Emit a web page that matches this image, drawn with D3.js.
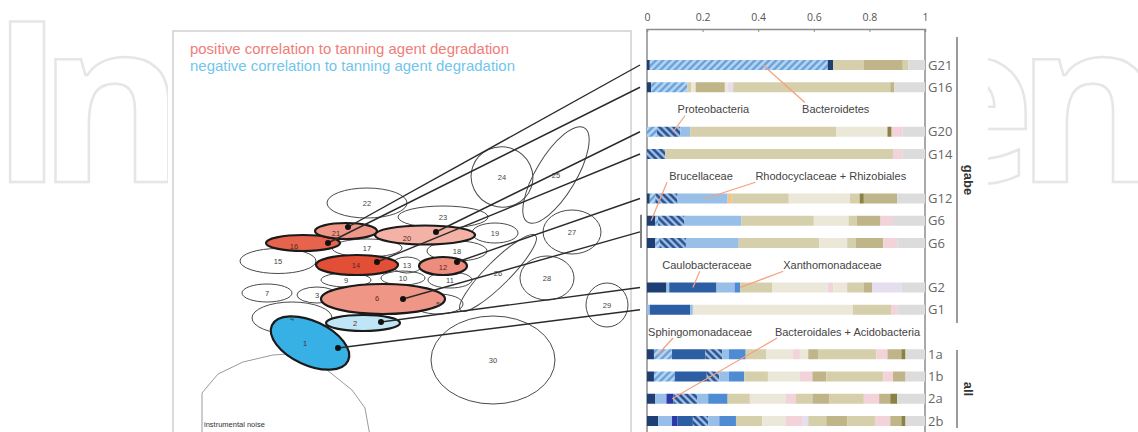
<!DOCTYPE html>
<html>
<head>
<meta charset="utf-8">
<script src="https://cdn.jsdelivr.net/npm/d3@7"></script>
<style>
  body { margin: 0; background: #fff; }
  svg { display: block; }
</style>
</head>
<body>
<svg id="chart" width="1138" height="432"></svg>
<script>
// ---------------- data ----------------
// bar rows (blank ids hold the callout label rows)
const rowIds    = ["G21","G16","gapA","G20","G14","gapB","G12","G6a","G6b","gapC","G2","G1","gapD","1a","1b","2a","2b"];
const rowLabels = ["G21","G16","",    "G20","G14","",    "G12","G6", "G6", "",    "G2","G1","",    "1a","1b","2a","2b"];

// relative abundance of each taxon group along a bar, in order
const compG21 = [["navy",.01],["hatchL",.64],["navy",.02],["tan",.11],["khaki",.14],["tan",.02],["grey",.06]];
const compG16 = [["navy",.015],["hatchL",.13],["tan",.015],["pale",.015],["khaki",.105],["pale",.01],["lav",.02],["tan",.565],["khaki",.015],["grey",.11]];
const compG20 = [["hatchL",.035],["hatchD",.085],["light",.035],["tan",.525],["pale",.185],["olive",.015],["pink",.04],["grey",.08]];
const compG14 = [["hatchD",.065],["tan",.82],["pink",.035],["grey",.08]];
const compG12 = [["navy",.01],["hatchL",.02],["hatchD",.08],["light",.18],["orange",.015],["tan",.205],["pale",.22],["tan",.035],["olive",.015],["khaki",.12],["grey",.10]];
const compG6a = [["navy",.03],["hatchL",.01],["hatchD",.095],["light",.205],["tan",.26],["pale",.125],["tan",.03],["khaki",.085],["pink",.045],["grey",.115]];
const compG6b = [["navy",.03],["hatchL",.015],["hatchD",.095],["light",.19],["tan",.29],["pale",.10],["tan",.03],["khaki",.10],["pink",.05],["grey",.10]];
const compG2  = [["navy",.07],["light",.01],["blue",.17],["light",.065],["mid",.02],["tan",.115],["pale",.20],["pink",.02],["pale",.05],["tan",.06],["khaki",.03],["lav",.105],["grey",.085]];
const compG1  = [["light",.01],["blue",.145],["light",.01],["pale",.575],["tan",.14],["pink",.02],["grey",.10]];
const comp1a  = [["navy",.025],["hatchL",.065],["blue",.12],["hatchD",.06],["light",.025],["mid",.06],["tan",.075],["pale",.095],["pink",.025],["pale",.03],["khaki",.035],["tan",.21],["pink",.04],["khaki",.05],["olive",.015],["grey",.07]];
const comp1b  = [["navy",.025],["hatchL",.075],["blue",.115],["hatchD",.045],["light",.035],["mid",.055],["tan",.085],["pale",.115],["pink",.045],["khaki",.05],["tan",.205],["pink",.035],["khaki",.045],["grey",.07]];
const comp2a  = [["navy",.03],["light",.04],["indigo",.025],["hatchD",.085],["light",.04],["mid",.07],["tan",.08],["pale",.13],["pink",.035],["tan",.06],["khaki",.06],["tan",.125],["pink",.055],["khaki",.04],["olive",.025],["grey",.10]];
const comp2b  = [["navy",.04],["light",.05],["indigo",.02],["blue",.055],["hatchD",.055],["light",.04],["mid",.06],["tan",.095],["pale",.085],["pink",.06],["lav",.02],["tan",.065],["khaki",.075],["tan",.10],["pink",.055],["khaki",.04],["olive",.015],["grey",.07]];

const compositions = {G21: compG21, G16: compG16, G20: compG20, G14: compG14, G12: compG12,
  G6a: compG6a, G6b: compG6b, G2: compG2, G1: compG1, "1a": comp1a, "1b": comp1b, "2a": comp2a, "2b": comp2b};

const tickValues = [0, 0.2, 0.4, 0.6, 0.8, 1];

// clusters of the map: id, centre, radii, tilt, correlation to tanning agent degradation
const clusterIds  = ["1","2","3","4","5","6","7","9","10","11","12","13","14","15","16","17","18","19","20","21","22","23","24","25","26","27","28","29","30"];
const clusterCx   = [137,190,144,119,265,210, 94,173,230,277,270,234,184,105,130,194,284,322,252,173,194,270,329,383,325,399,374,434,320];
const clusterCy   = [312,292,264,287,273,268,262,249,247,249,235,234,234,230,212,217,220,202,204,200,172,186,146,144,242,201,247,274,329];
const clusterRx   = [ 42, 37, 20, 40, 25, 62, 25, 25, 22, 22, 24, 15, 41, 38, 37, 35, 30, 23, 50, 31, 40, 45, 31, 55, 53, 29, 27, 21, 62];
const clusterRy   = [ 22,  8,  8, 16, 10, 15,  9,  7,  7,  8,  9,  8, 10, 12.5, 8,  9, 10, 10, 9.5, 8, 15, 11, 30, 20, 12, 22, 22, 22, 44];
const clusterTilt = [ 25,  0,  0,  0,  0,  0,  0,  0,  0,  0,  0,  0,  0,  0,  0,  0,  0,  0,  0,  0,  0,  0, 20,-59,-45,  0,  0,  0,  0];
const clusterCorr = [-0.9,-0.2,0, 0,  0, 0.5, 0,  0,  0,  0, 0.55, 0, 0.9, 0, 0.78, 0,  0,  0, 0.35, 0.5, 0, 0,  0,  0,  0,  0,  0,  0,  0];

// which cluster feeds which bar
const linkFrom = ["21","16","20","14","12","6","2","1"];
const linkTo   = ["G21","G16","G20","G14","G12","G6","G2","G1"];

// ---------------- styles & layout ----------------
const fills = {
  navy: "#1d3f73", blue: "#2c5ea3", mid: "#4f8bd3", light: "#98bfe7", indigo: "#2c38a8",
  tan: "#d6cfab", pale: "#ebe8d9", khaki: "#bfb588", olive: "#8a8243", pink: "#f3d3da",
  lav: "#e5deee", orange: "#f5c28a", grey: "#dcdcdc",
  hatchL: "url(#hatchL)", hatchD: "url(#hatchD)"
};

const svg = d3.select("#chart");
const defs = svg.append("defs");

function hatch(id, bg, fg, angle, sw) {
  const p = defs.append("pattern").attr("id", id).attr("patternUnits", "userSpaceOnUse")
    .attr("width", 5).attr("height", 5).attr("patternTransform", `rotate(${angle})`);
  p.append("rect").attr("width", 5).attr("height", 5).attr("fill", bg);
  p.append("line").attr("x1", 1.5).attr("x2", 1.5).attr("y1", 0).attr("y2", 5)
    .attr("stroke", fg).attr("stroke-width", sw);
}
hatch("hatchL", "#b7d5f1", "#5796d8", 45, 2);
hatch("hatchD", "#9fc0e8", "#1f4786", -45, 2.4);

// faint publisher lettering behind the figure
const wm = svg.append("g").attr("fill", "none").attr("stroke", "#e6e6e6").attr("stroke-width", 2.5)
  .style("font-family", "'Open Sans'").style("font-weight", 700).style("font-size", "224px");
wm.append("text").attr("x", -10).attr("y", 182).text("I");
wm.append("text").attr("x", 38).attr("y", 182).text("n");
wm.append("text").attr("x", 903).attr("y", 182).text("e");
wm.append("text").attr("x", 1016).attr("y", 182).text("n");
svg.append("rect").attr("x", 168).attr("y", 0).attr("width", 820).attr("height", 432).attr("fill", "#fff");

// ---------------- left: cluster map ----------------
const mx = d3.scaleLinear().domain([0, 458]).range([173, 631]);
const my = d3.scaleLinear().domain([0, 401]).range([31, 432]);

svg.append("rect").attr("x", mx(0)).attr("y", my(0)).attr("width", mx(458) - mx(0)).attr("height", 420)
  .attr("fill", "#fff").attr("stroke", "#cfcfcf").attr("stroke-width", 1.5);

svg.append("text").attr("x", 190).attr("y", 54).attr("fill", "#f07d78")
  .style("font-family", "'Liberation Sans', Arial, sans-serif").style("font-size", "14.5px")
  .attr("textLength", 319).attr("lengthAdjust", "spacingAndGlyphs")
  .text("positive correlation to tanning agent degradation");
svg.append("text").attr("x", 190).attr("y", 71).attr("fill", "#72c5ea")
  .style("font-family", "'Liberation Sans', Arial, sans-serif").style("font-size", "14.5px")
  .attr("textLength", 325).attr("lengthAdjust", "spacingAndGlyphs")
  .text("negative correlation to tanning agent degradation");

// instrumental noise region
const noise = [[29, 405], [29, 362], [45, 343], [70, 331], [100, 324], [130, 322], [154, 339], [179, 359], [192, 377], [197, 405]];
svg.append("path").attr("d", d3.line().x(d => mx(d[0])).y(d => my(d[1]))(noise))
  .attr("fill", "none").attr("stroke", "#9a9a9a").attr("stroke-width", 1);
svg.append("text").attr("x", mx(31)).attr("y", my(396)).attr("fill", "#333")
  .style("font-family", "'Liberation Sans', Arial, sans-serif").style("font-size", "7.5px")
  .text("instrumental noise");

const clusters = clusterIds.map((id, i) => ({
  id, cx: clusterCx[i], cy: clusterCy[i], rx: clusterRx[i], ry: clusterRy[i],
  tilt: clusterTilt[i], corr: clusterCorr[i]
}));
const posColor = d3.scaleLinear().domain([0, 1]).range(["#fff0ec", "#df3c22"]);
const negColor = d3.scaleLinear().domain([0, 1]).range(["#e6f5fc", "#22a8e2"]);
const clusterFill = c => c.corr > 0 ? posColor(c.corr) : c.corr < 0 ? negColor(-c.corr) : "none";

// marker / label placement inside the highlighted clusters
const dotOffset = {"21": [2, -4], "16": [25, 0], "20": [11, -3], "14": [20, -3], "12": [14, -4], "6": [20, 0], "2": [18, -1], "1": [28, 5]};
const labelOffset = {"21": [-10, 2], "16": [-9, 3], "20": [-18, 3], "14": [-1, 0], "12": [0, 1], "6": [-6, -1], "2": [-8, 0], "1": [-5, 0]};

const gPlain = svg.append("g");
const gFilled = svg.append("g");
clusters.forEach(c => {
  const g = (c.corr !== 0 ? gFilled : gPlain).append("g")
    .attr("transform", `translate(${mx(c.cx)},${my(c.cy)}) rotate(${c.tilt})`);
  g.append("ellipse").attr("rx", c.rx).attr("ry", c.ry)
    .attr("fill", clusterFill(c))
    .attr("stroke", c.corr !== 0 ? "#1a1a1a" : "#4a4a4a")
    .attr("stroke-width", c.corr !== 0 ? 2.2 : 1);
});
clusters.forEach(c => {
  const off = labelOffset[c.id] || [0, 0];
  svg.append("text").attr("x", mx(c.cx + off[0])).attr("y", my(c.cy + off[1]))
    .attr("text-anchor", "middle").attr("dy", "0.35em")
    .attr("fill", c.corr !== 0 ? "#5a2a20" : "#444")
    .style("font-family", "'Liberation Sans', Arial, sans-serif").style("font-size", "7.5px")
    .text(c.id);
});

// ---------------- right: stacked composition bars ----------------
const x = d3.scaleLinear().domain([0, 1]).range([647, 925]);
const y = d3.scalePoint().domain(rowIds).range([65, 421]);
const barH = 10;

const panelBottom = 440;
svg.append("line").attr("x1", x(0)).attr("x2", x(0)).attr("y1", 29).attr("y2", panelBottom).attr("stroke", "#8c8c8c").attr("stroke-width", 1.5);
svg.append("line").attr("x1", x(1)).attr("x2", x(1)).attr("y1", 29).attr("y2", panelBottom).attr("stroke", "#8c8c8c").attr("stroke-width", 1.5);

const axis = d3.axisTop(x).tickValues(tickValues).tickSize(-3).tickFormat(d3.format("~g"));
const ax = svg.append("g").attr("transform", "translate(0,29)").call(axis);
ax.select(".domain").attr("stroke", "#8c8c8c").attr("stroke-width", 1.5);
ax.selectAll(".tick line").attr("stroke", "#8c8c8c");
ax.selectAll(".tick text").attr("fill", "#555").attr("y", -8)
  .style("font-family", "'Open Sans', sans-serif").style("font-size", "10.5px");

rowIds.forEach((id, i) => {
  const comp = compositions[id];
  if (!comp) return;
  let acc = 0;
  const segs = comp.map(([k, v]) => { const s = {k, x0: acc, x1: acc + v}; acc += v; return s; });
  svg.append("g").selectAll("rect").data(segs).join("rect")
    .attr("x", d => x(d.x0)).attr("width", d => x(d.x1) - x(d.x0))
    .attr("y", y(id) - barH / 2).attr("height", barH)
    .attr("fill", d => fills[d.k]);
  svg.append("text").attr("x", 928).attr("y", y(id)).attr("dy", "0.36em")
    .attr("fill", "#666").style("font-family", "'Open Sans', sans-serif").style("font-size", "13px")
    .text(rowLabels[i]);
});

// group brackets
const brackets = [{label: "gabe", y0: 37, y1: 323}, {label: "all", y0: 350, y1: 428}];
brackets.forEach(b => {
  svg.append("line").attr("x1", 957).attr("x2", 957).attr("y1", b.y0).attr("y2", b.y1)
    .attr("stroke", "#9a9a9a").attr("stroke-width", 2);
  svg.append("text").attr("transform", `translate(964,${(b.y0 + b.y1) / 2}) rotate(90)`)
    .attr("text-anchor", "middle").attr("fill", "#333").attr("font-weight", "bold")
    .style("font-family", "'Liberation Sans', Arial, sans-serif").style("font-size", "13px")
    .text(b.label);
});

// callouts naming taxa on the bars
const callouts = [
  {text: "Bacteroidetes", row: "gapA", at: 0.558, from: 0.568, toRow: "G21", to: 0.417},
  {text: "Proteobacteria", row: "gapA", at: 0.11, from: 0.137, toRow: "G20", to: 0.094},
  {text: "Brucellaceae", row: "gapB", at: 0.08, from: 0.072, toRow: "G6a", to: 0.015},
  {text: "Rhodocyclaceae + Rhizobiales", row: "gapB", at: 0.39, from: 0.39, toRow: "G12", to: 0.21},
  {text: "Caulobacteraceae", row: "gapC", at: 0.055, from: 0.19, toRow: "G2", to: 0.165},
  {text: "Xanthomonadaceae", row: "gapC", at: 0.49, from: 0.49, toRow: "G2", to: 0.335},
  {text: "Sphingomonadaceae", row: "gapD", at: 0.004, from: 0.094, toRow: "1a", to: 0.04},
  {text: "Bacteroidales + Acidobacteria", row: "gapD", at: 0.46, from: 0.468, toRow: "2a", to: 0.09}
];
callouts.forEach(c => {
  const ty = y(c.row);
  const up = y(c.toRow) < ty;
  svg.append("line").attr("x1", x(c.from)).attr("y1", up ? ty - 7 : ty + 6)
    .attr("x2", x(c.to)).attr("y2", y(c.toRow))
    .attr("stroke", "#f4a07e").attr("stroke-width", 1.2);
  svg.append("text").attr("x", x(c.at)).attr("y", ty).attr("dy", "0.35em")
    .attr("fill", "#444").style("font-family", "'Liberation Sans', Arial, sans-serif").style("font-size", "11px")
    .text(c.text);
});

// ---------------- connectors from clusters to bars ----------------
const rowY = id => id === "G6" ? (y("G6a") + y("G6b")) / 2 : y(id);
svg.append("line").attr("x1", 641).attr("x2", 641).attr("y1", y("G6a") - 6).attr("y2", y("G6b") + 5)
  .attr("stroke", "#555").attr("stroke-width", 1.5);
const byId = new Map(clusters.map(c => [c.id, c]));
linkFrom.forEach((cid, i) => {
  const c = byId.get(cid);
  const o = dotOffset[cid];
  const sx = mx(c.cx + o[0]), sy = my(c.cy + o[1]);
  svg.append("line").attr("x1", sx).attr("y1", sy).attr("x2", 640).attr("y2", rowY(linkTo[i]))
    .attr("stroke", "#2b2b2b").attr("stroke-width", 1.4);
  svg.append("circle").attr("cx", sx).attr("cy", sy).attr("r", 3).attr("fill", "#111");
});
</script>
</body>
</html>
